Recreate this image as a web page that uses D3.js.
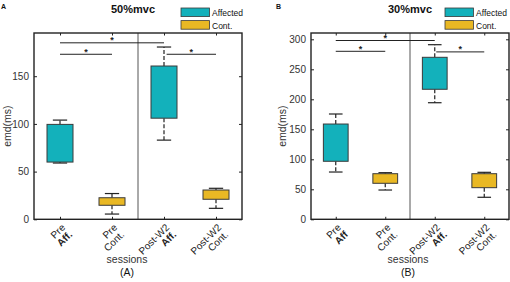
<!DOCTYPE html>
<html>
<head>
<meta charset="utf-8">
<script src="https://cdn.jsdelivr.net/npm/d3@7/dist/d3.min.js"></script>
<style>
  body { margin: 0; background: #fff; }
  svg { font-family: "Liberation Sans", Arial, sans-serif; }
</style>
</head>
<body>
<svg id="chart" width="510" height="282"></svg>
<script>
// sessions on the x axis (second line of each label is drawn separately)
const sessionTop = ['Pre', 'Pre', 'Post-W2', 'Post-W2']
const sessionBottomA = ['Aff.', 'Cont.', 'Aff.', 'Cont.']
const sessionBottomB = ['Aff', 'Cont.', 'Aff.', 'Cont.']
const groups = ['Affected', 'Cont.', 'Affected', 'Cont.']

// panel A, 50%mvc : whisker min, q1, q3, whisker max
const minA = [59, 5.5, 83, 11.5]
const q1A = [60, 14.7, 106, 21]
const q3A = [99.5, 22.6, 160.7, 30.7]
const maxA = [104, 27, 180.6, 32.5]
const ticksA = [0, 50, 100, 150]
// significance brackets: [from session, to session, level]
const sigA = [[1, 3, 185], [1, 2, 173], [3.05, 4, 173]]

// panel B, 30%mvc
const minB = [78.8, 48.8, 194.3, 36.7]
const q1B = [96.7, 60, 216.7, 52.7]
const q3B = [158.8, 76, 270, 76]
const maxB = [175.5, 77.7, 291, 78.3]
const ticksB = [0, 50, 100, 150, 200, 250, 300]
const sigB = [[1, 3, 298], [1, 2, 280], [3.03, 4, 279]]

const colors = { Affected: '#13b1bb', 'Cont.': '#e9b824' }
const svg = d3.select('#chart')

/**
 * Draws one MATLAB-style boxplot panel
 */
function drawPanel (p) {
  const x = d3.scaleLinear().domain([0.5, 4.5]).range([p.left, p.right])
  const y = d3.scaleLinear().domain([0, p.yMax]).range([219.3, 33])
  const g = svg.append('g')
  const ink = '#222'

  // divider between pre and post
  g.append('line')
    .attr('x1', x(2.5)).attr('x2', x(2.5))
    .attr('y1', y.range()[1]).attr('y2', y.range()[0])
    .attr('stroke', '#555').attr('stroke-width', 1)

  // left axis, ticks inward
  const yAxis = g.append('g')
    .attr('transform', `translate(${p.left},0)`)
    .call(d3.axisLeft(y).tickValues(p.ticks).tickSize(-3).tickPadding(5))
  yAxis.select('.domain').remove()
  yAxis.selectAll('text').attr('font-size', 10).attr('fill', '#333')
  yAxis.selectAll('line').attr('stroke', ink)

  // right ticks
  g.append('g')
    .attr('transform', `translate(${p.right},0)`)
    .call(d3.axisRight(y).tickValues(p.ticks).tickSize(-3).tickFormat(''))
    .call(a => a.select('.domain').remove())
    .selectAll('line').attr('stroke', ink)

  // bottom and top ticks
  g.append('g')
    .attr('transform', `translate(0,${y(0)})`)
    .call(d3.axisBottom(x).tickValues([1, 2, 3, 4]).tickSize(-2.5).tickFormat(''))
    .call(a => a.select('.domain').remove())
    .selectAll('line').attr('stroke', ink)
  g.append('g')
    .attr('transform', `translate(0,${y.range()[1]})`)
    .call(d3.axisTop(x).tickValues([1, 2, 3, 4]).tickSize(-2.5).tickFormat(''))
    .call(a => a.select('.domain').remove())
    .selectAll('line').attr('stroke', ink)

  // frame
  g.append('rect')
    .attr('x', p.left).attr('y', y.range()[1])
    .attr('width', p.right - p.left).attr('height', y(0) - y.range()[1])
    .attr('fill', 'none').attr('stroke', ink).attr('stroke-width', 1.4)

  const boxes = d3.range(4).map(i => ({
    i: i + 1, min: p.min[i], q1: p.q1[i], q3: p.q3[i], max: p.max[i], group: groups[i]
  }))
  const halfW = (x(1.25) - x(1))
  const capW = halfW * 0.55

  const bx = g.selectAll('.bx').data(boxes).join('g').attr('class', 'bx')
  // whiskers (dashed)
  bx.append('line')
    .attr('x1', d => x(d.i)).attr('x2', d => x(d.i))
    .attr('y1', d => y(d.q3)).attr('y2', d => y(d.max))
    .attr('stroke', ink).attr('stroke-width', 1.2).attr('stroke-dasharray', '4,2')
  bx.append('line')
    .attr('x1', d => x(d.i)).attr('x2', d => x(d.i))
    .attr('y1', d => y(d.q1)).attr('y2', d => y(d.min))
    .attr('stroke', ink).attr('stroke-width', 1.2).attr('stroke-dasharray', '4,2')
  // caps
  bx.append('line')
    .attr('x1', d => x(d.i) - capW).attr('x2', d => x(d.i) + capW)
    .attr('y1', d => y(d.max)).attr('y2', d => y(d.max))
    .attr('stroke', ink).attr('stroke-width', 1.2)
  bx.append('line')
    .attr('x1', d => x(d.i) - capW).attr('x2', d => x(d.i) + capW)
    .attr('y1', d => y(d.min)).attr('y2', d => y(d.min))
    .attr('stroke', ink).attr('stroke-width', 1.2)
  // boxes
  bx.append('rect')
    .attr('x', d => x(d.i) - halfW)
    .attr('width', halfW * 2)
    .attr('y', d => y(d.q3))
    .attr('height', d => y(d.q1) - y(d.q3))
    .attr('fill', d => colors[d.group])
    .attr('stroke', '#3a3a3a').attr('stroke-width', 1)

  // significance brackets
  p.sig.forEach(s => {
    g.append('line')
      .attr('x1', x(s[0])).attr('x2', x(s[1]))
      .attr('y1', y(s[2])).attr('y2', y(s[2]))
      .attr('stroke', ink).attr('stroke-width', 1)
    g.append('text')
      .attr('x', (x(s[0]) + x(s[1])) / 2).attr('y', y(s[2]) + 0.5)
      .attr('text-anchor', 'middle').attr('font-size', 9).attr('font-weight', 'bold')
      .attr('fill', ink)
      .text('*')
  })

  // session labels, rotated
  d3.range(4).forEach(i => {
    const t = g.append('text')
      .attr('transform', `translate(${x(i + 1) + 3},${y(0) + 6}) rotate(-45)`)
      .attr('text-anchor', 'end').attr('font-size', 10).attr('fill', '#222')
    t.append('tspan').attr('x', 0).attr('dy', '0.4em').text(sessionTop[i])
    t.append('tspan').attr('x', 0).attr('dy', '1.0em')
      .attr('font-weight', p.bottom[i].startsWith('Aff') ? 'bold' : 'normal')
      .text(p.bottom[i])
  })

  // axis titles
  g.append('text')
    .attr('transform', `translate(${p.yLabelX},${(y(0) + y.range()[1]) / 2}) rotate(-90)`)
    .attr('text-anchor', 'middle').attr('font-size', 10.5).attr('fill', '#333')
    .text('emd(ms)')
  g.append('text')
    .attr('x', p.sessX).attr('y', 263)
    .attr('text-anchor', 'middle').attr('font-size', 10.5).attr('fill', '#333')
    .text('sessions')
  g.append('text')
    .attr('x', p.sessX).attr('y', 276)
    .attr('text-anchor', 'middle').attr('font-size', 10.5).attr('fill', '#111')
    .text(p.caption)

  // title and panel letter
  g.append('text')
    .attr('x', p.titleX).attr('y', 13)
    .attr('text-anchor', 'middle').attr('font-size', 11).attr('font-weight', 'bold')
    .attr('fill', '#111')
    .text(p.title)
  g.append('text')
    .attr('x', p.letterX).attr('y', 9)
    .attr('font-size', 7).attr('font-weight', 'bold').attr('fill', '#111')
    .text(p.letter)

  // legend
  const lg = g.append('g').attr('transform', `translate(${p.legendX},8)`)
  ;['Affected', 'Cont.'].forEach((name, k) => {
    lg.append('rect')
      .attr('x', 0).attr('y', k * 12.6)
      .attr('width', 28.5).attr('height', 8.6)
      .attr('fill', colors[name]).attr('stroke', '#3a3a3a').attr('stroke-width', 0.8)
    lg.append('text')
      .attr('x', 31).attr('y', k * 12.6 + 8)
      .attr('font-size', 8.5).attr('fill', '#111')
      .text(name)
  })
}

drawPanel({
  left: 34, right: 242, yMax: 195.3, ticks: ticksA,
  min: minA, q1: q1A, q3: q3A, max: maxA, sig: sigA, bottom: sessionBottomA,
  yLabelX: 11, sessX: 127, caption: '(A)', title: '50%mvc', titleX: 133,
  letter: 'A', letterX: 1, legendX: 181
})
drawPanel({
  left: 311, right: 509, yMax: 310.5, ticks: ticksB,
  min: minB, q1: q1B, q3: q3B, max: maxB, sig: sigB, bottom: sessionBottomB,
  yLabelX: 286, sessX: 408, caption: '(B)', title: '30%mvc', titleX: 410,
  letter: 'B', letterX: 276, legendX: 445
})
</script>
</body>
</html>
